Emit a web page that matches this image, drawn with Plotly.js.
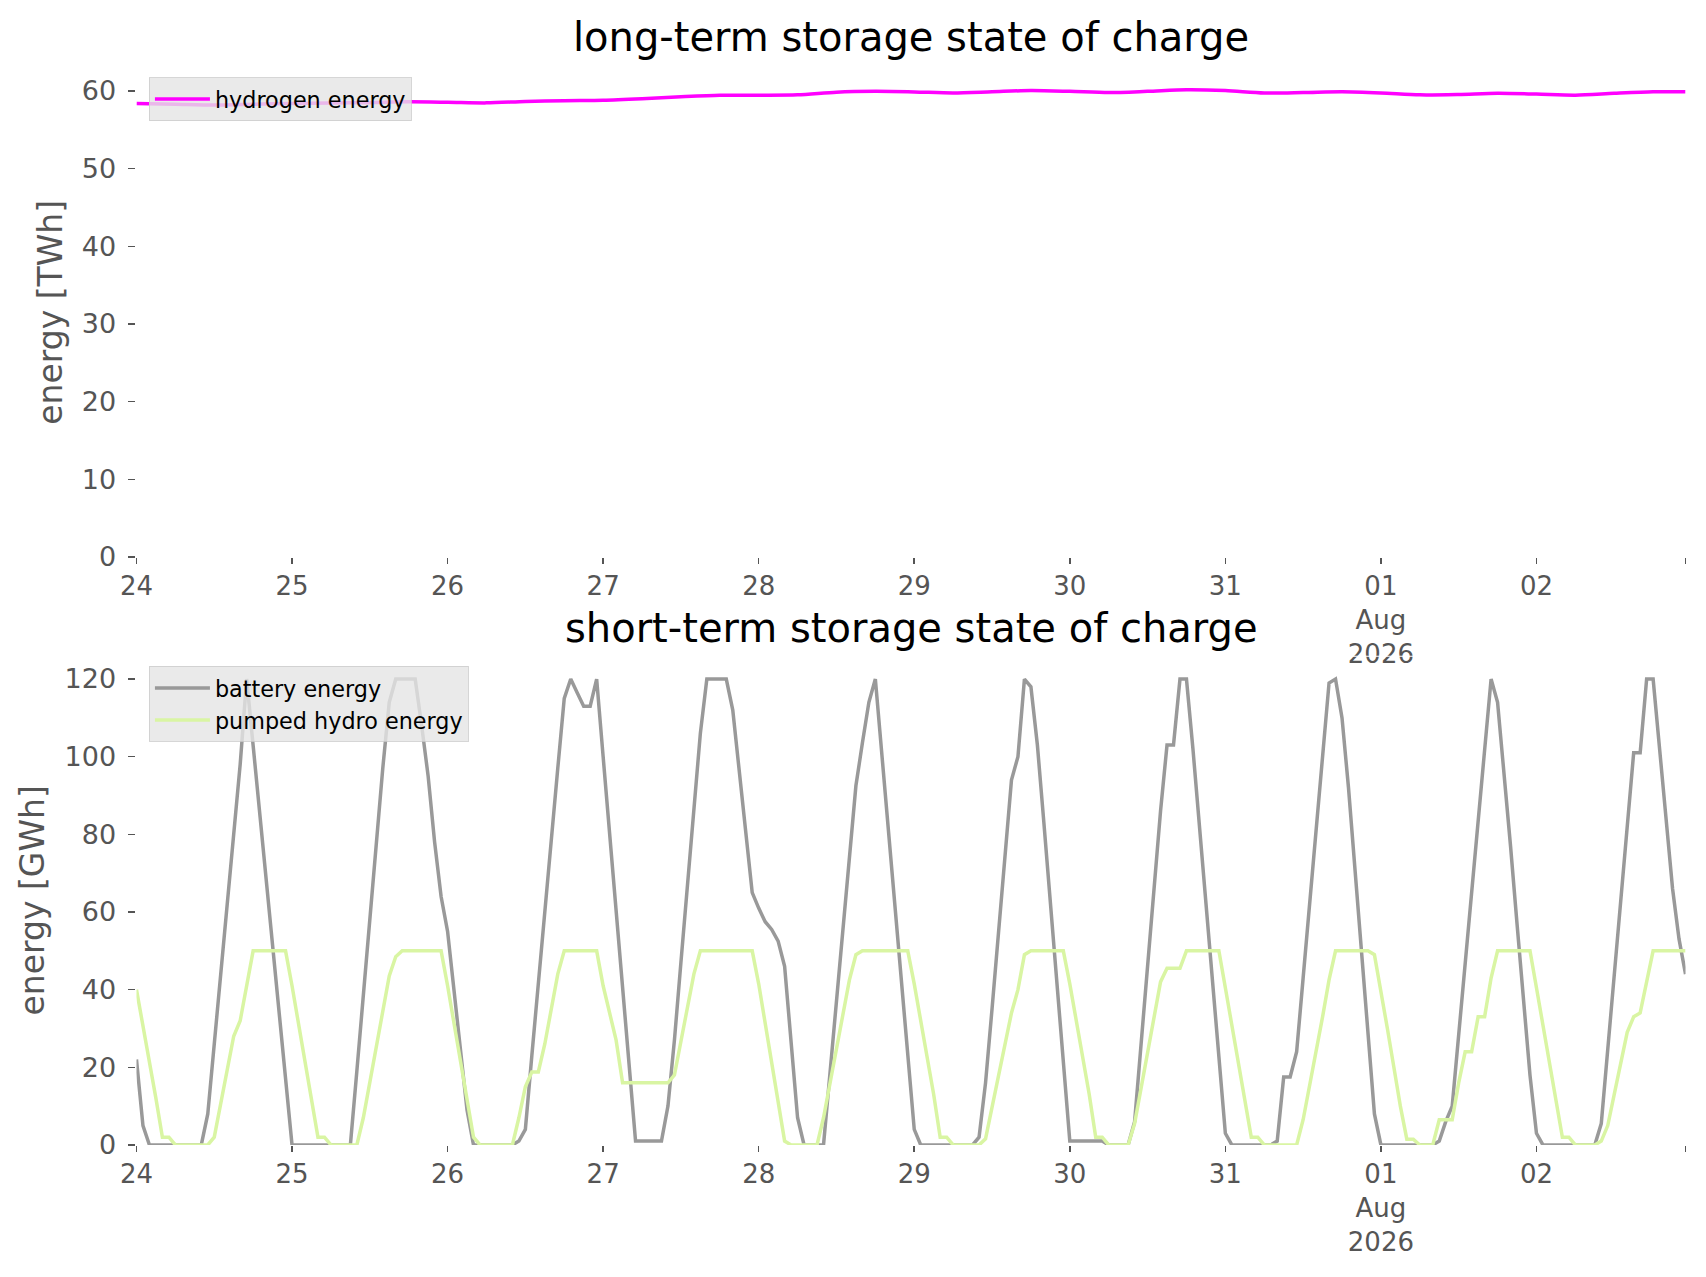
<!DOCTYPE html>
<html>
<head>
<meta charset="utf-8">
<script src="https://cdn.plot.ly/plotly-3.0.1.min.js"></script>
<style>html,body{margin:0;padding:0;background:#fff}</style>
</head>
<body>
<div id="storagePlot" style="width:1706px;height:1277px"></div>
<script>
// hourly values from 24 Jul 2026 00:00, one row per day
var batteryEnergy = [
  22, 5, 0, 0, 0, 0, 0, 0, 0, 0, 0, 8, 26, 44, 62, 80, 98, 120, 103, 86, 69, 52, 34, 17,
  0, 0, 0, 0, 0, 0, 0, 0, 0, 0, 19, 39, 58, 77, 97, 114, 120, 120, 120, 120, 108, 95, 78, 64,
  55, 40, 24, 9, 0, 0, 0, 0, 0, 0, 0, 1, 4, 23, 42, 61, 79, 97, 115, 120, 116.5, 113, 113, 120,
  100, 80, 61, 41, 21, 1, 1, 1, 1, 1, 10, 27, 47, 67, 87, 106, 120, 120, 120, 120, 112, 97, 81, 65,
  61, 57.5, 55.5, 52.5, 46, 26, 7, 0, 0, 0, 0, 18.5, 37, 55.5, 74, 92.5, 103.5, 114, 120, 101, 81, 62, 43, 23,
  4, 0, 0, 0, 0, 0, 0, 0, 0, 0, 2, 16, 35, 55, 74, 94, 100, 120, 118, 103, 83, 63, 42, 22,
  1, 1, 1, 1, 1, 1, 0, 0, 0, 0, 6, 26, 46, 66, 86, 103, 103, 120, 120, 102, 82, 62, 42, 22,
  3, 0, 0, 0, 0, 0, 0, 0, 1, 17.5, 17.5, 24, 43, 62, 81, 100, 119, 120, 110, 92, 71, 49, 28, 8,
  0, 0, 0, 0, 0, 0, 0, 0, 0, 1, 6, 10, 28.5, 47, 65.5, 84, 103, 120, 114, 96, 77, 57, 38, 18,
  3, 0, 0, 0, 0, 0, 0, 0, 0, 0, 5.5, 25, 44, 64, 83, 101, 101, 120, 120, 103, 84, 66, 53, 44
];
var pumpedHydroEnergy = [
  40, 31, 21, 12, 2, 2, 0, 0, 0, 0, 0, 0, 2, 11, 20, 28, 32, 41, 50, 50, 50, 50, 50, 50,
  41, 31, 21, 11, 2, 2, 0, 0, 0, 0, 0, 7, 16, 25, 34.5, 43.5, 48.5, 50, 50, 50, 50, 50, 50, 50,
  41, 31, 21, 12, 2, 0, 0, 0, 0, 0, 0, 7, 15, 18.8, 18.8, 26, 35, 44, 50, 50, 50, 50, 50, 50,
  41, 34, 27, 16, 16, 16, 16, 16, 16, 16, 16, 18, 27, 35, 44, 50, 50, 50, 50, 50, 50, 50, 50, 50,
  41.5, 31.5, 21, 11, 1, 0, 0, 0, 0, 0, 7, 16, 25, 34, 42.5, 49, 50, 50, 50, 50, 50, 50, 50, 50,
  41.5, 32, 22.5, 13, 2, 2, 0, 0, 0, 0, 0, 1.6, 9.7, 18, 26, 34, 40, 49, 50, 50, 50, 50, 50, 50,
  41.5, 32, 22.5, 13, 2, 2, 0, 0, 0, 0, 5.5, 14.6, 24, 33, 42, 45.5, 45.5, 45.5, 50, 50, 50, 50, 50, 50,
  40.5, 31, 21, 12, 2, 2, 0, 0, 0, 0, 0, 0, 6.5, 15, 24, 33, 42.5, 50, 50, 50, 50, 50, 50, 49,
  40, 30, 20, 10, 1.5, 1.5, 0, 0, 0, 6.5, 6.5, 6.5, 16, 24, 24, 33, 33, 43, 50, 50, 50, 50, 50, 50,
  40.5, 31, 21, 12, 2, 2, 0, 0, 0, 0, 1, 5, 13, 21, 29, 33, 34, 42, 50, 50, 50, 50, 50, 50
];
// hydrogen read every 6 hours
var hydrogenHours = [0, 6, 12, 18, 24, 30, 36, 42, 48, 54, 60, 66, 72, 78, 84, 90, 96, 102, 108, 114,
  120, 126, 132, 138, 144, 150, 156, 162, 168, 174, 180, 186, 192, 198, 204, 210, 216, 222, 228, 234, 239];
var hydrogenEnergy = [58.4, 58.3, 58.2, 58.3, 58.4, 58.45, 58.5, 58.6, 58.55, 58.47, 58.65, 58.75, 58.8, 59.0,
  59.25, 59.45, 59.46, 59.5, 59.85, 59.95, 59.88, 59.75, 59.9, 60.05, 59.95, 59.8, 59.95, 60.15, 60.05,
  59.75, 59.8, 59.9, 59.75, 59.5, 59.55, 59.7, 59.6, 59.46, 59.7, 59.9, 59.9];

var dayLabels = ['24', '25', '26', '27', '28', '29', '30', '31', '01<br>Aug<br>2026', '02', ''];

var startTime = Date.UTC(2026, 6, 24, 0, 0);
function pad(n) { return (n < 10 ? '0' : '') + n; }
function hourStamp(h) {
  var d = new Date(startTime + h * 3600000);
  return d.getUTCFullYear() + '-' + pad(d.getUTCMonth() + 1) + '-' + pad(d.getUTCDate()) +
    ' ' + pad(d.getUTCHours()) + ':00';
}

var hourlyTimes = [];
for (var i = 0; i < batteryEnergy.length; i++) {
  hourlyTimes[i] = hourStamp(i);
}
var lastHour = batteryEnergy.length - 1;
var hydrogenTimes = hydrogenHours.map(hourStamp);
var tickTimes = [];
for (var d = 0; d < 10; d++) {
  tickTimes.push(hourStamp(24 * d));
}
tickTimes.push(hourStamp(lastHour));

var font = 'DejaVu Sans, sans-serif';
var grey = '#555555';

var hydrogenLine = {
  x: hydrogenTimes, y: hydrogenEnergy, type: 'scatter', mode: 'lines',
  name: 'hydrogen energy', xaxis: 'x', yaxis: 'y', legend: 'legend', showlegend: true,
  line: {color: '#ff00ff', width: 3.5, shape: 'spline', smoothing: 0.8}
};
var batteryLine = {
  x: hourlyTimes, y: batteryEnergy, type: 'scatter', mode: 'lines',
  name: 'battery energy', xaxis: 'x2', yaxis: 'y2', legend: 'legend2', showlegend: true,
  line: {color: '#999999', width: 3.5}
};
var pumpedLine = {
  x: hourlyTimes, y: pumpedHydroEnergy, type: 'scatter', mode: 'lines',
  name: 'pumped hydro energy', xaxis: 'x2', yaxis: 'y2', legend: 'legend2', showlegend: true,
  line: {color: '#d9f5a3', width: 3.5}
};

function timeAxis(anchor) {
  return {
    domain: [0.08, 0.988], anchor: anchor, type: 'date',
    range: [hourStamp(0), hourStamp(lastHour)],
    tickmode: 'array', tickvals: tickTimes, ticktext: dayLabels,
    ticks: 'outside', ticklen: 6, tickwidth: 1.5, tickcolor: grey,
    tickfont: {family: font, size: 26, color: grey},
    showgrid: false, zeroline: false, showline: false
  };
}
function energyAxis(anchor, domain, top, step, label) {
  return {
    domain: domain, anchor: anchor, range: [0, top],
    tickmode: 'linear', tick0: 0, dtick: step,
    ticks: 'outside', ticklen: 7, tickwidth: 1.5, tickcolor: grey, ticklabelstandoff: 7,
    tickfont: {family: font, size: 27, color: grey},
    showgrid: false, zeroline: false, showline: false,
    title: {text: label, font: {family: font, size: 33, color: grey}, standoff: 9}
  };
}
function legendBox(y) {
  return {
    x: 0.0873, y: y, xanchor: 'left', yanchor: 'top', visible: true,
    bgcolor: 'rgba(229,229,229,0.8)', bordercolor: 'rgba(204,204,204,0.8)', borderwidth: 1,
    font: {family: font, size: 22.3, color: '#000000'}, tracegroupgap: 0, itemwidth: 55
  };
}

var layout = {
  width: 1706, height: 1277,
  margin: {l: 0, r: 0, t: 0, b: 0},
  paper_bgcolor: '#ffffff', plot_bgcolor: '#ffffff',
  font: {family: font},
  showlegend: true,
  title: {
    text: 'long-term storage state of charge', font: {family: font, size: 40, color: '#000000'},
    x: 0.534, xanchor: 'center', y: 0.971, yanchor: 'middle'
  },
  xaxis: timeAxis('y'),
  yaxis: energyAxis('x', [0.5638, 0.947], 63, 10, 'energy [TWh]'),
  xaxis2: timeAxis('y2'),
  yaxis2: energyAxis('x2', [0.1034, 0.4865], 126, 20, 'energy [GWh]'),
  legend: legendBox(0.9397),
  legend2: legendBox(0.4785),
  annotations: [{
    text: 'short-term storage state of charge', showarrow: false,
    xref: 'paper', yref: 'paper', x: 0.534, y: 0.5082, xanchor: 'center', yanchor: 'middle',
    font: {family: font, size: 40, color: '#000000'}
  }],
  shapes: [{
    type: 'line', xref: 'x2 domain', yref: 'y2', x0: 0, x1: 1, y0: 126, y1: 126,
    line: {color: '#ffffff', width: 2}, layer: 'above'
  }]
};

Plotly.newPlot('storagePlot', [hydrogenLine, batteryLine, pumpedLine], layout, {
  displayModeBar: false, staticPlot: true
});
</script>
</body>
</html>
